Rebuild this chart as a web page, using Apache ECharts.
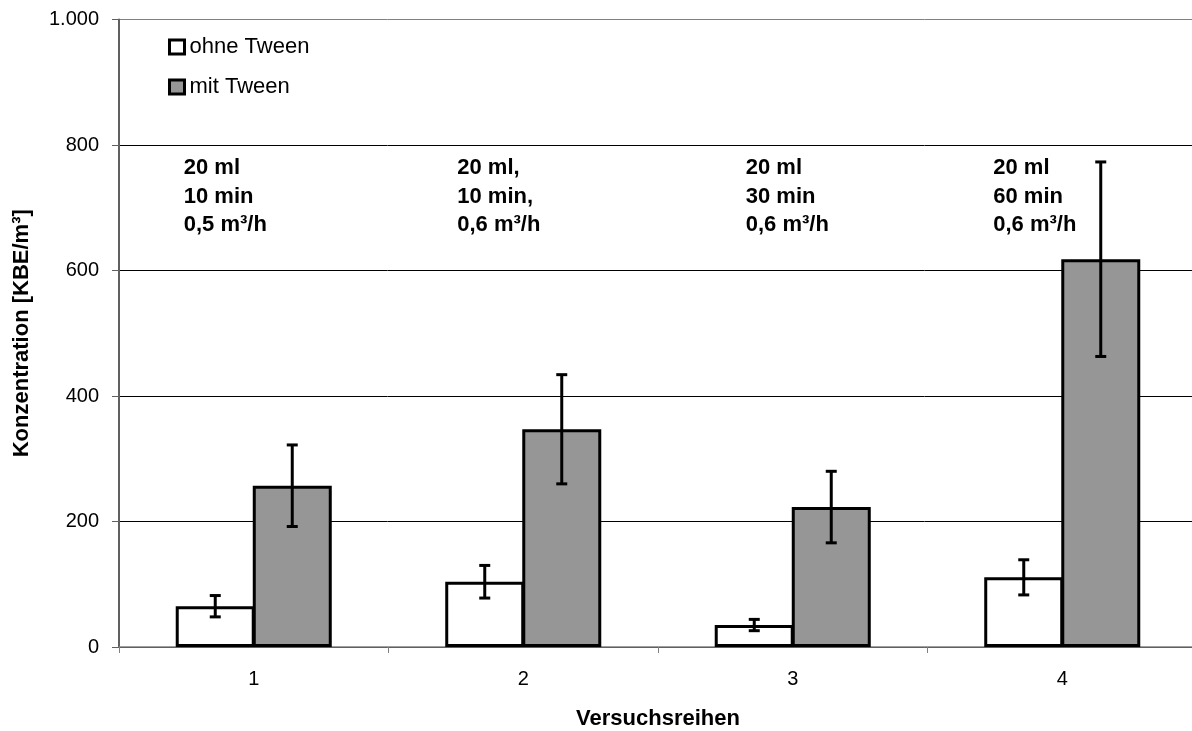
<!DOCTYPE html>
<html>
<head>
<meta charset="utf-8">
<script src="https://cdn.jsdelivr.net/npm/echarts@6/dist/echarts.min.js"></script>
<style>
  html, body { margin: 0; padding: 0; background: #fff; }
  #main { width: 1192px; height: 731px; }
</style>
</head>
<body>
<div id="main"></div>
<script>
var categories = ['1', '2', '3', '4'];
var ohneValues = [65, 104, 35, 111];
var ohneErrors = [17, 26, 9, 28];
var mitValues = [257, 347, 223, 618];
var mitErrors = [65, 87, 57, 155];
var yTicks = [0, 200, 400, 600, 800, 1000];
var annotations = [
    ['20 ml', '10 min', '0,5 m³/h'],
    ['20 ml,', '10 min,', '0,6 m³/h'],
    ['20 ml', '30 min', '0,6 m³/h'],
    ['20 ml', '60 min', '0,6 m³/h']
];

var FONT = '"Liberation Sans", Arial, sans-serif';
var BAR_W = 79;
var BAR_STEP = 77;

var chartDom = document.getElementById('main');
var myChart = echarts.init(chartDom);

function errData(values, errors) {
    return values.map(function (v, i) {
        return [i, v - errors[i], v + errors[i]];
    });
}

// Fehlerbalken als custom series
function errorRenderer(offset) {
    return function (params, api) {
        var lo = api.coord([api.value(0), api.value(1)]);
        var hi = api.coord([api.value(0), api.value(2)]);
        var x = lo[0] + offset;
        var cap = 5.5;
        var style = { stroke: '#000', lineWidth: 3, fill: null };
        return {
            type: 'group',
            children: [
                { type: 'line', shape: { x1: x, y1: lo[1], x2: x, y2: hi[1] }, style: style },
                { type: 'line', shape: { x1: x - cap, y1: lo[1], x2: x + cap, y2: lo[1] }, style: style },
                { type: 'line', shape: { x1: x - cap, y1: hi[1], x2: x + cap, y2: hi[1] }, style: style }
            ]
        };
    };
}

var option = {
    animation: false,
    backgroundColor: '#fff',
    textStyle: { fontFamily: FONT },
    grid: {
        left: 119, width: 1078, top: 19.5, bottom: 84,
        containLabel: false, outerBoundsMode: 'none'
    },
    legend: {
        orient: 'vertical',
        left: 163,
        top: 31,
        itemWidth: 15,
        itemHeight: 14,
        itemGap: 18,
        selectedMode: false,
        textStyle: { fontFamily: FONT, fontSize: 22, color: '#000', padding: [0, 0, 0, 0] },
        data: [
            { name: 'ohne Tween', icon: 'rect', itemStyle: { color: '#fff', borderColor: '#000', borderWidth: 3 } },
            { name: 'mit Tween', icon: 'rect', itemStyle: { color: '#969696', borderColor: '#000', borderWidth: 3 } }
        ]
    },
    xAxis: {
        type: 'category',
        data: categories,
        name: 'Versuchsreihen',
        nameLocation: 'middle',
        nameGap: 61,
        nameTextStyle: { fontFamily: FONT, fontSize: 22, fontWeight: 'bold', color: '#000' },
        axisLine: { lineStyle: { color: '#808080', width: 1.5 } },
        axisTick: { show: true, length: 6, lineStyle: { color: '#808080' } },
        axisLabel: { fontFamily: FONT, fontSize: 20, color: '#000', margin: 22 }
    },
    yAxis: {
        type: 'value',
        min: 0,
        max: 1000,
        interval: 200,
        name: 'Konzentration [KBE/m³]',
        nameLocation: 'middle',
        nameGap: 86,
        nameTextStyle: { fontFamily: FONT, fontSize: 22, fontWeight: 'bold', color: '#000' },
        axisLine: { show: true, lineStyle: { color: '#606060', width: 2 } },
        axisTick: { show: true, length: 7, lineStyle: { color: '#606060' } },
        axisLabel: {
            fontFamily: FONT, fontSize: 20, color: '#000', margin: 20,
            formatter: function (v) {
                return yTicks.indexOf(v) >= 0 && v >= 1000 ? String(v).replace(/(\d)(\d{3})$/, '$1.$2') : String(v);
            }
        },
        splitLine: {
            show: true,
            lineStyle: { color: ['#000', '#000', '#000', '#000', '#000', '#808080'], width: 1 }
        }
    },
    series: [
        {
            name: 'ohne Tween',
            type: 'bar',
            barWidth: BAR_W,
            barGap: '-2.5%',
            data: ohneValues,
            itemStyle: { color: '#fff', borderColor: '#000', borderWidth: 3 }
        },
        {
            name: 'mit Tween',
            type: 'bar',
            barWidth: BAR_W,
            barGap: '-2.5%',
            data: mitValues,
            itemStyle: { color: '#969696', borderColor: '#000', borderWidth: 3 }
        },
        {
            name: 'ohne err',
            type: 'custom',
            renderItem: errorRenderer(-BAR_STEP / 2),
            data: errData(ohneValues, ohneErrors),
            z: 10
        },
        {
            name: 'mit err',
            type: 'custom',
            renderItem: errorRenderer(BAR_STEP / 2),
            data: errData(mitValues, mitErrors),
            z: 10
        }
    ]
};

myChart.setOption(option, true);

// Beschriftungen über den Gruppen
var annoOffsets = [-70, -66, -47, -69];
var annoTop = 153.5;
var texts = annotations.map(function (lines, i) {
    var cx = myChart.convertToPixel({ xAxisIndex: 0 }, categories[i]);
    return {
        type: 'text',
        left: cx + annoOffsets[i],
        top: annoTop,
        z: 20,
        style: {
            text: lines.join('\n'),
            font: 'bold 22px ' + FONT,
            fill: '#000',
            lineHeight: 28.7
        }
    };
});
myChart.setOption({ graphic: texts });
</script>
</body>
</html>
